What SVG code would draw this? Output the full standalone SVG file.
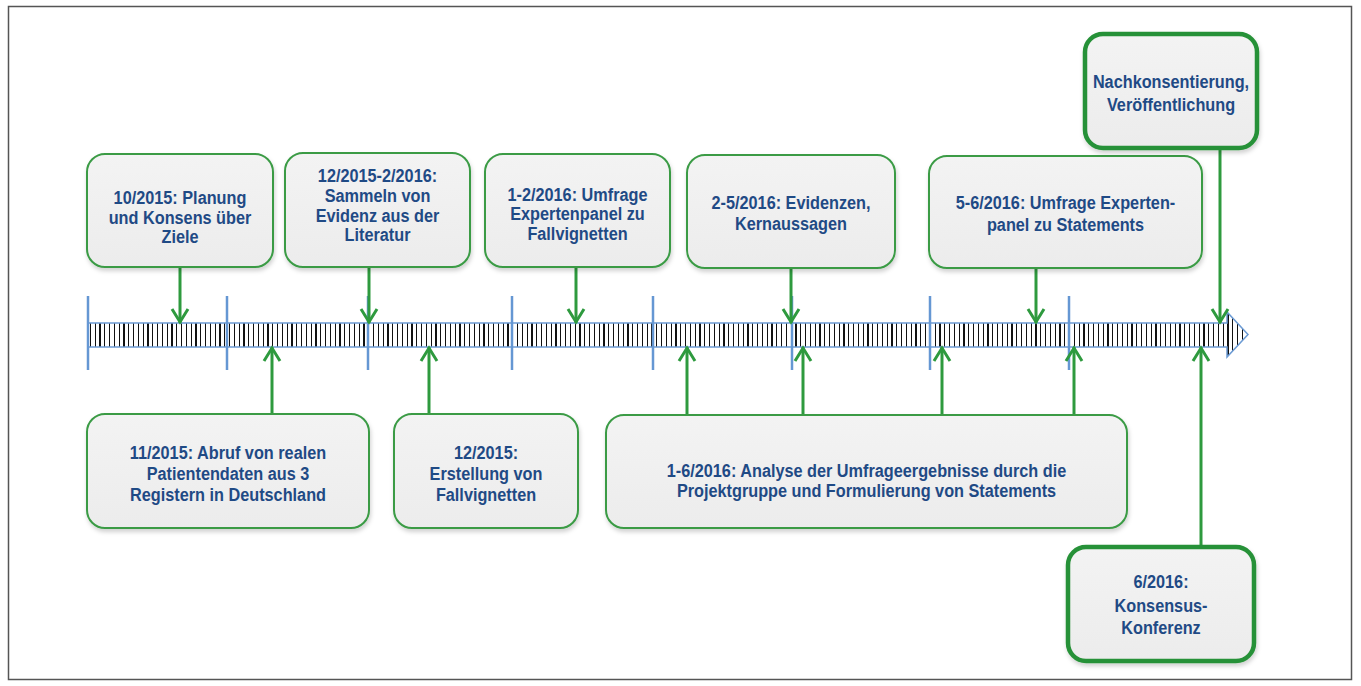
<svg xmlns="http://www.w3.org/2000/svg" width="1361" height="686" viewBox="0 0 1361 686">
<style>
.box{fill:url(#boxfill);stroke:#3A9B45;stroke-width:2;filter:url(#sh)}
.boxb{fill:url(#boxfill);stroke:#279137;stroke-width:4.5;filter:url(#sh)}
.t{font-family:"Liberation Sans",Arial,sans-serif;font-weight:bold;font-size:17.5px;fill:#1F4A85;text-anchor:middle}
.con{stroke:#2E9A3E;stroke-width:3;fill:none;marker-end:url(#ah)}
.div{stroke:#6597D3;stroke-width:2.5}
</style>
<defs>
<linearGradient id="boxfill" x1="0" y1="0" x2="0" y2="1">
<stop offset="0" stop-color="#F3F3F3"/>
<stop offset="1" stop-color="#ECECEC"/>
</linearGradient>
<filter id="sh" x="-10%" y="-10%" width="120%" height="130%">
<feDropShadow dx="1" dy="3" stdDeviation="2" flood-color="#000" flood-opacity="0.18"/>
</filter>
<pattern id="stripes" patternUnits="userSpaceOnUse" x="88" y="0" width="24" height="60">
<rect width="24" height="60" fill="#fff"/>
<rect x="2" y="0" width="1" height="60" fill="#111"/>
<rect x="7" y="0" width="1" height="60" fill="#111"/>
<rect x="11" y="0" width="2" height="60" fill="#111"/>
<rect x="16" y="0" width="1" height="60" fill="#111"/>
<rect x="21" y="0" width="1" height="60" fill="#111"/>
</pattern>
<marker id="ah" markerUnits="userSpaceOnUse" markerWidth="30" markerHeight="30" viewBox="-15 -15 30 30" refX="0" refY="0" orient="auto">
<path d="M-14,-8 L-1,0 L-14,8" fill="none" stroke="#2E9A3E" stroke-width="3"/>
</marker>
</defs>
<rect x="8.5" y="6.5" width="1343" height="673" fill="#fff" stroke="#555" stroke-width="1.5"/>

<g id="timeline">
<path d="M88,323 H1227 V312 L1248,334.5 L1227,357 V347 H88 Z" fill="url(#stripes)" stroke="#6C9BD4" stroke-width="1.5"/>
<g id="dividers">
<line class="div" x1="88" y1="296" x2="88" y2="370"/>
<line class="div" x1="227" y1="296" x2="227" y2="370"/>
<line class="div" x1="368" y1="296" x2="368" y2="370"/>
<line class="div" x1="512" y1="296" x2="512" y2="370"/>
<line class="div" x1="653" y1="296" x2="653" y2="370"/>
<line class="div" x1="792" y1="296" x2="792" y2="370"/>
<line class="div" x1="930" y1="296" x2="930" y2="370"/>
<line class="div" x1="1069" y1="296" x2="1069" y2="370"/>
</g>
</g>

<g id="connectors">
<path class="con" d="M180,267 V323"/>
<path class="con" d="M369,267 V323"/>
<path class="con" d="M576,267 V323"/>
<path class="con" d="M791,268 V323"/>
<path class="con" d="M1036,268 V323"/>
<path class="con" d="M1220,148 V323"/>
<path class="con" d="M272,414 V347"/>
<path class="con" d="M429,414 V347"/>
<path class="con" d="M687,416 V347"/>
<path class="con" d="M803,416 V347"/>
<path class="con" d="M942,416 V347"/>
<path class="con" d="M1074,416 V347"/>
<path class="con" d="M1201,546 V347"/>
</g>

<g id="n1">
<rect class="box" x="87" y="154" width="186" height="113" rx="18"/>
<g transform="translate(180 0) scale(0.93 1)"><text class="t" x="0" y="204">10/2015: Planung</text><text class="t" x="0" y="224">und Konsens über</text><text class="t" x="0" y="243">Ziele</text></g>
</g>
<g id="n2">
<rect class="box" x="285" y="153" width="185" height="114" rx="18"/>
<g transform="translate(377.5 0) scale(0.93 1)"><text class="t" x="0" y="182">12/2015-2/2016:</text><text class="t" x="0" y="202">Sammeln von</text><text class="t" x="0" y="222">Evidenz aus der</text><text class="t" x="0" y="241">Literatur</text></g>
</g>
<g id="n3">
<rect class="box" x="485" y="154" width="185" height="113" rx="18"/>
<g transform="translate(577.5 0) scale(0.93 1)"><text class="t" x="0" y="201">1-2/2016: Umfrage</text><text class="t" x="0" y="220">Expertenpanel zu</text><text class="t" x="0" y="240">Fallvignetten</text></g>
</g>
<g id="n4">
<rect class="box" x="687" y="155" width="208" height="113" rx="18"/>
<g transform="translate(791 0) scale(0.93 1)"><text class="t" x="0" y="209">2-5/2016: Evidenzen,</text><text class="t" x="0" y="230">Kernaussagen</text></g>
</g>
<g id="n5">
<rect class="box" x="929" y="156" width="273" height="112" rx="18"/>
<g transform="translate(1065.5 0) scale(0.93 1)"><text class="t" x="0" y="209">5-6/2016: Umfrage Experten-</text><text class="t" x="0" y="231">panel zu Statements</text></g>
</g>
<g id="n6">
<rect class="boxb" x="1085" y="34" width="172" height="114" rx="18"/>
<g transform="translate(1171 0) scale(0.93 1)"><text class="t" x="0" y="88">Nachkonsentierung,</text><text class="t" x="0" y="111">Veröffentlichung</text></g>
</g>
<g id="n7">
<rect class="box" x="87" y="414" width="282" height="114" rx="18"/>
<g transform="translate(228 0) scale(0.93 1)"><text class="t" x="0" y="459">11/2015: Abruf von realen</text><text class="t" x="0" y="480">Patientendaten aus 3</text><text class="t" x="0" y="501">Registern in Deutschland</text></g>
</g>
<g id="n8">
<rect class="box" x="394" y="414" width="184" height="114" rx="18"/>
<g transform="translate(486 0) scale(0.93 1)"><text class="t" x="0" y="459">12/2015:</text><text class="t" x="0" y="480">Erstellung von</text><text class="t" x="0" y="501">Fallvignetten</text></g>
</g>
<g id="n9">
<rect class="box" x="606" y="415" width="521" height="113" rx="18"/>
<g transform="translate(866.5 0) scale(0.93 1)"><text class="t" x="0" y="477">1-6/2016: Analyse der Umfrageergebnisse durch die</text><text class="t" x="0" y="497">Projektgruppe und Formulierung von Statements</text></g>
</g>
<g id="n10">
<rect class="boxb" x="1068" y="547" width="186" height="114" rx="18"/>
<g transform="translate(1161 0) scale(0.93 1)"><text class="t" x="0" y="588">6/2016:</text><text class="t" x="0" y="612">Konsensus-</text><text class="t" x="0" y="634">Konferenz</text></g>
</g>
</svg>
